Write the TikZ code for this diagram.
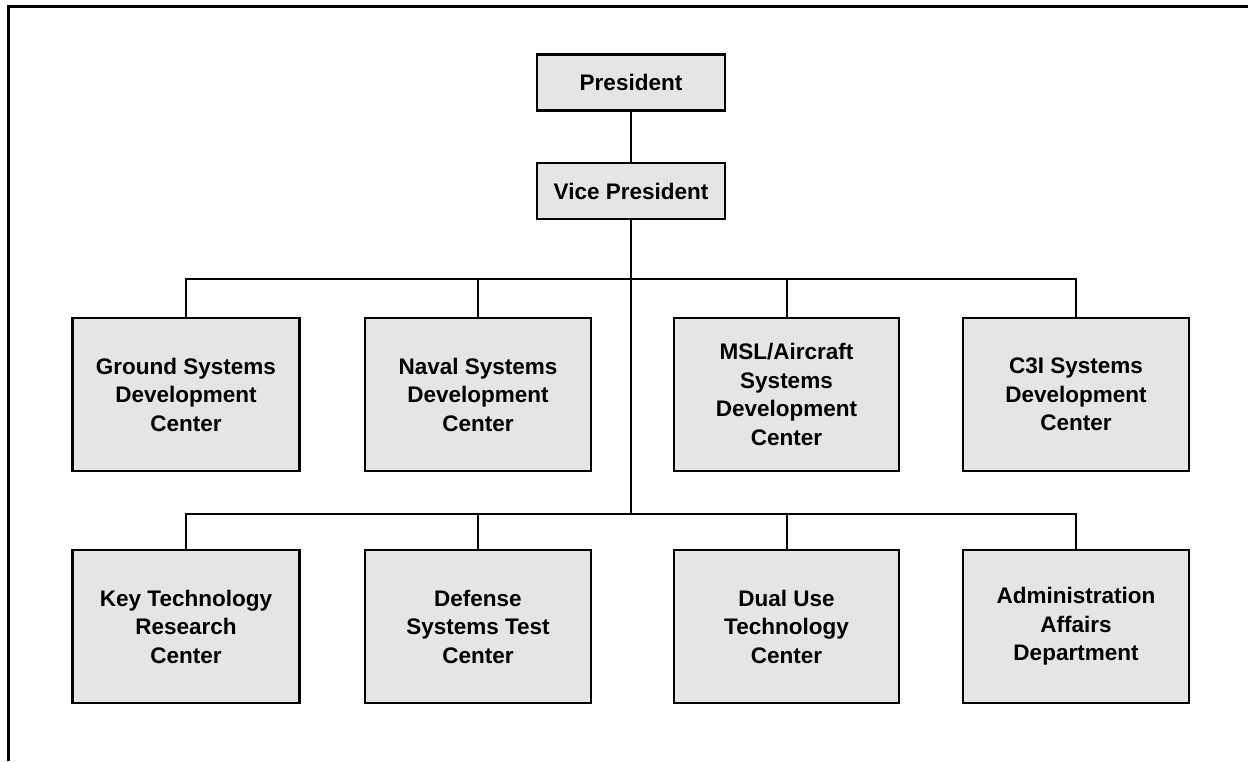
\documentclass[tikz,border=0pt]{standalone}
\usepackage{fontspec}
\setmainfont{Liberation Sans}
\begin{document}
\begin{tikzpicture}[x=1pt,y=-1pt,
  orgbox/.style={draw=black,line width=2.6pt,fill=black!10,align=center,
    inner sep=0pt,font=\bfseries\fontsize{22.5}{28.5}\selectfont},
  topbox/.style={orgbox,minimum width=188pt,minimum height=56pt},
  unitbox/.style={orgbox,minimum height=153pt},
  link/.style={line width=2pt,draw=black}]
\useasboundingbox (0,0) rectangle (1248,761);
% outer frame (top and left edges)
\draw[line width=3pt] (1248,6) -- (8,6) -- (8,761);

% top of the hierarchy
\node[topbox] (pres) at (631,82.5) {President};
\node[topbox] (vp) at (631,191) {Vice President};

% first row of centers
\node[unitbox,minimum width=227pt] (ground) at (186,394.5) {Ground Systems\\Development\\Center};
\node[unitbox,minimum width=226pt] (naval) at (478,394.5) {Naval Systems\\Development\\Center};
\node[unitbox,minimum width=225pt] (msl) at (786.5,394.5) {MSL/Aircraft\\Systems\\Development\\Center};
\node[unitbox,minimum width=226pt] (cthree) at (1076,394.5) {C3I Systems\\Development\\Center};

% second row of centers
\node[unitbox,minimum width=227pt] (keytech) at (186,626.5) {Key Technology\\Research\\Center};
\node[unitbox,minimum width=226pt] (test) at (478,626.5) {Defense\\Systems Test\\Center};
\node[unitbox,minimum width=225pt] (dual) at (786.5,626.5) {Dual Use\\Technology\\Center};
\node[unitbox,minimum width=226pt] (admin) at (1076,626.5) {Administration\\Affairs\\Department};

% bus junctions on the trunk
\coordinate (busA) at (631,279);
\coordinate (busB) at (631,514);

% connectors
\draw[link] (pres.south) -- (vp.north);
\draw[link] (vp.south) -- (busB);
\draw[link] (ground.north) |- (busA) -| (cthree.north);
\draw[link] (naval.north) -- (naval.north |- busA);
\draw[link] (msl.north) -- (msl.north |- busA);
\draw[link] (keytech.north) |- (busB) -| (admin.north);
\draw[link] (test.north) -- (test.north |- busB);
\draw[link] (dual.north) -- (dual.north |- busB);
\end{tikzpicture}
\end{document}
